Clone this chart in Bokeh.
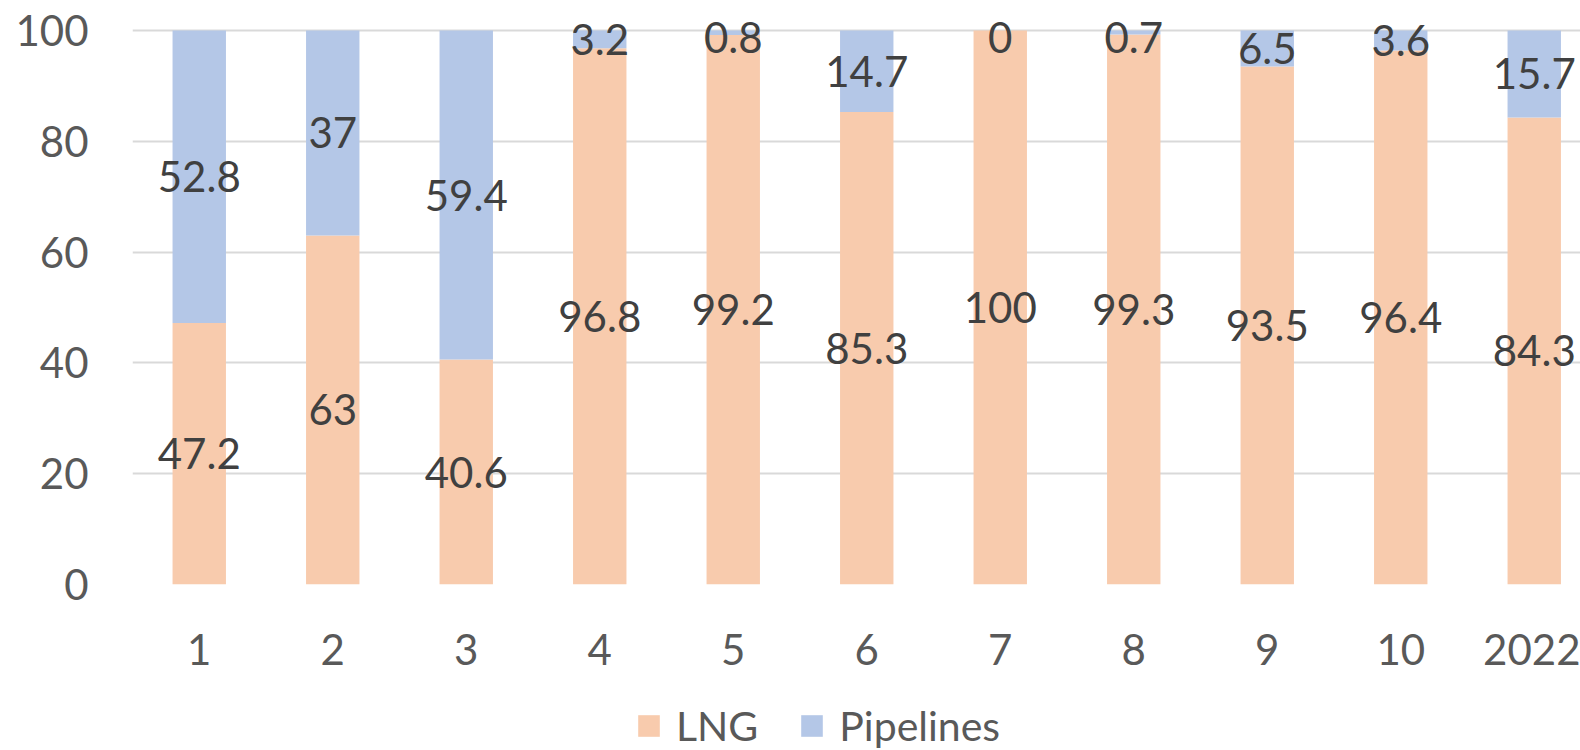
from bokeh.plotting import figure
from bokeh.layouts import column
from bokeh.models import ColumnDataSource, FixedTicker, Legend, LegendItem, Range1d
from bokeh.core.properties import value
from bokeh.embed import file_html
from bokeh.resources import INLINE

categories = ["1", "2", "3", "4", "5", "6", "7", "8", "9", "10", "2022"]
lng = [47.2, 63, 40.6, 96.8, 99.2, 85.3, 100, 99.3, 93.5, 96.4, 84.3]
pipelines = [52.8, 37, 59.4, 3.2, 0.8, 14.7, 0, 0.7, 6.5, 3.6, 15.7]
series_names = ["LNG", "Pipelines"]
y_ticks = [0, 20, 40, 60, 80, 100]

LNG_COLOR = "#F8CBAD"
PIPE_COLOR = "#B4C7E7"
FONT = "Lato"

xs = [i + 1 for i in range(len(categories))]
pipe_top = [a + b for a, b in zip(lng, pipelines)]
lng_label_y = [a / 2 for a in lng]
pipe_label_y = [min(a + b / 2, 98.8) for a, b in zip(lng, pipelines)]

src = ColumnDataSource(dict(
    x=xs, lng=lng, pipe_bottom=lng, pipe_top=pipe_top,
    lng_txt=[f"{v:g}" for v in lng], pipe_txt=[f"{v:g}" for v in pipelines],
    lng_y=lng_label_y, pipe_y=pipe_label_y,
))

W, H_MAIN, H_LEG = 1580, 692, 58
LEFT, BOTTOM_Y = 132, 584
p = figure(width=W, height=H_MAIN, output_backend="svg", toolbar_location=None,
           x_range=Range1d(0.5, 0.5 + (W - LEFT) / 133.5),
           y_range=Range1d(0, 100 + 30 / 5.54),
           min_border_left=LEFT, min_border_right=0, min_border_top=0,
           min_border_bottom=H_MAIN - BOTTOM_Y)
p.outline_line_color = None
p.background_fill_color = "white"

p.vbar(x="x", bottom=0, top="lng", width=0.4, source=src,
       fill_color=LNG_COLOR, line_color=None)
p.vbar(x="x", bottom="pipe_bottom", top="pipe_top", width=0.4, source=src,
       fill_color=PIPE_COLOR, line_color=None)

for col_y, col_t in (("lng_y", "lng_txt"), ("pipe_y", "pipe_txt")):
    p.text(x="x", y=col_y, text=col_t, source=src, text_align="center",
           text_baseline="middle", text_font=value(FONT), text_font_size="42px",
           text_color="#404040")

p.xaxis.ticker = FixedTicker(ticks=xs)
p.xaxis.major_label_overrides = {x: c for x, c in zip(xs, categories)}
p.yaxis.ticker = FixedTicker(ticks=y_ticks)
for ax in (p.xaxis[0], p.yaxis[0]):
    ax.axis_line_color = None
    ax.major_tick_line_color = None
    ax.minor_tick_line_color = None
    ax.major_label_text_font = FONT
    ax.major_label_text_font_size = "42px"
    ax.major_label_text_color = "#595959"
p.xaxis.major_label_standoff = 43
p.yaxis.major_label_standoff = 38

p.xgrid.grid_line_color = None
p.ygrid.ticker = FixedTicker(ticks=y_ticks)
p.ygrid.grid_line_color = "#D9D9D9"
p.ygrid.grid_line_width = 2

# legend strip below the chart (swatch renderers sit outside the visible range)
lf = figure(width=W, height=H_LEG, output_backend="svg", toolbar_location=None,
            x_axis_type=None, y_axis_type=None, x_range=Range1d(0, 1), y_range=Range1d(0, 1),
            min_border=0)
lf.outline_line_color = None
lf.xgrid.grid_line_color = None
lf.ygrid.grid_line_color = None
swatch_src = ColumnDataSource(dict(x=[-5.0], top=[-5.0]))
sw_lng = lf.vbar(x="x", top="top", width=0.1, source=swatch_src,
                 fill_color=LNG_COLOR, line_color=None)
sw_pipe = lf.vbar(x="x", top="top", width=0.1, source=swatch_src,
                  fill_color=PIPE_COLOR, line_color=None)
legend = Legend(items=[LegendItem(label=series_names[0], renderers=[sw_lng]),
                       LegendItem(label=series_names[1], renderers=[sw_pipe])],
                orientation="horizontal", location=(503, 0),
                label_text_font=FONT, label_text_font_size="41px",
                label_text_color="#595959", glyph_width=27, glyph_height=27,
                label_standoff=14, spacing=40, padding=0, margin=0,
                border_line_color=None, background_fill_alpha=0)
lf.add_layout(legend, "center")

open("out.html", "w").write(file_html(column(p, lf, spacing=0), INLINE))
